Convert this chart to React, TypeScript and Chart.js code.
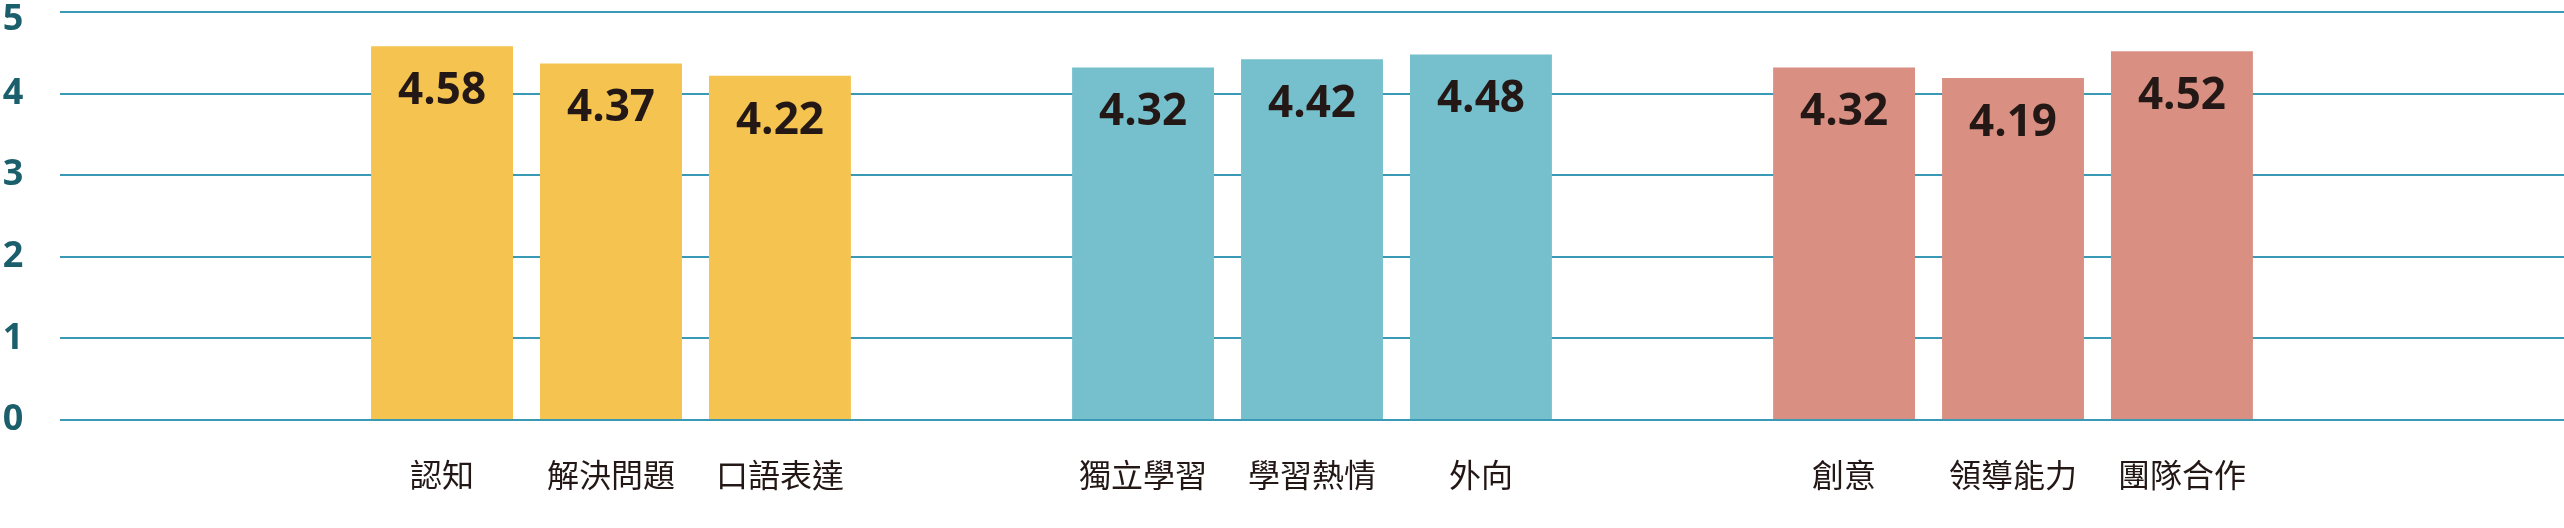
import React, { useRef, useEffect } from "react";
import { Chart, registerables } from "chart.js";

Chart.register(...registerables);

// three groups of three bars
const groupLabels: string[][] = [
  ["認知", "解決問題", "口語表達"],
  ["獨立學習", "學習熱情", "外向"],
  ["創意", "領導能力", "團隊合作"],
];
const groupValues: number[][] = [
  [4.58, 4.37, 4.22],
  [4.32, 4.42, 4.48],
  [4.32, 4.19, 4.52],
];
const groupColors = ["#F4C350", "#75C0CC", "#D99083"];
const yTicks = [0, 1, 2, 3, 4, 5];

// plugin: y tick numbers, value inside bar top, category label under each bar
const barTextPlugin = {
  id: "barText",
  afterDatasetsDraw(chart: Chart) {
    const { ctx, chartArea } = chart;
    const yScale = chart.scales.y;
    ctx.save();
    ctx.textAlign = "center";
    ctx.textBaseline = "middle";
    ctx.fillStyle = "#1C5F6C";
    ctx.font = "bold 36px 'Open Sans'";
    yTicks.forEach((t) => {
      const py = Math.max(yScale.getPixelForValue(t), chartArea.top + 8);
      ctx.fillText(String(t), 13, py);
    });
    chart.data.datasets.forEach((ds, di) => {
      const meta = chart.getDatasetMeta(di);
      meta.data.forEach((el: any, gi: number) => {
        const v = groupValues[gi][di];
        ctx.fillStyle = "#231815";
        ctx.font = "bold 44px 'Open Sans'";
        ctx.textBaseline = "alphabetic";
        ctx.fillText(v.toFixed(2), el.x, el.y + 58);
        ctx.font = "32px 'Noto Sans CJK TC'";
        ctx.textBaseline = "middle";
        ctx.fillText(groupLabels[gi][di], el.x, chartArea.bottom + 55);
      });
    });
    ctx.restore();
  },
};

const BarChart = () => {
  const chartRef = useRef<HTMLCanvasElement>(null);
  const chartInstanceRef = useRef<Chart | null>(null);

  useEffect(() => {
    if (!chartRef.current) return;
    if (chartInstanceRef.current) chartInstanceRef.current.destroy();

    const datasets = [0, 1, 2].map((j) => ({
      label: "bar" + j,
      data: groupValues.map((vals, g) => ({ x: g, y: vals[j] })),
      backgroundColor: groupColors,
      categoryPercentage: 0.723,
      barPercentage: 0.84,
    }));

    chartInstanceRef.current = new Chart(chartRef.current, {
      type: "bar",
      data: { datasets },
      options: {
        animation: false,
        responsive: true,
        maintainAspectRatio: false,
        layout: { padding: { top: 12, bottom: 108, left: 3, right: 0 } },
        plugins: {
          legend: { display: false },
          tooltip: { enabled: false },
        },
        scales: {
          x: {
            type: "linear",
            min: -0.786,
            max: 2.786,
            offset: false,
            display: false,
            afterBuildTicks: (scale: any) => {
              scale.ticks = groupValues.map((_, g) => ({ value: g }));
            },
          },
          y: {
            min: 0,
            max: 5,
            afterFit: (scale: any) => {
              scale.width = 57;
            },
            afterBuildTicks: (scale: any) => {
              scale.ticks = yTicks.map((v) => ({ value: v }));
            },
            border: { display: false },
            grid: { color: "#3A9AB6", lineWidth: 2, drawTicks: false },
            ticks: { display: false },
          },
        },
      },
      plugins: [barTextPlugin],
    });

    return () => {
      if (chartInstanceRef.current) {
        chartInstanceRef.current.destroy();
        chartInstanceRef.current = null;
      }
    };
  }, []);

  return (
    <div
      style={{
        position: "absolute",
        left: 0,
        top: 0,
        width: 2564,
        height: 528,
        background: "#fff",
      }}
    >
      <canvas ref={chartRef}></canvas>
    </div>
  );
};

export default function App() {
  return <BarChart />;
}
